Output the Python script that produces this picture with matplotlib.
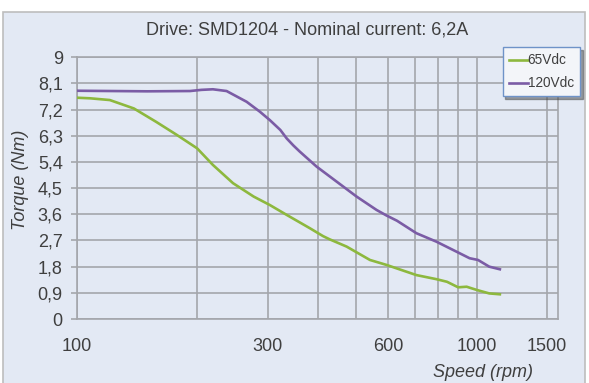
import numpy as np
import matplotlib
matplotlib.use('Agg')
import matplotlib.pyplot as plt
from matplotlib.patches import Rectangle

plt.rcParams['font.family'] = ['Liberation Sans', 'DejaVu Sans']

# torque curves
speed_65 = [100, 108, 121, 139, 158, 178, 200, 219, 246, 277, 304, 335, 383, 413, 429,
            473, 541, 595, 707, 793, 843, 899, 944, 1000, 1075, 1143]
torque_65 = [7.61, 7.59, 7.53, 7.24, 6.78, 6.33, 5.87, 5.30, 4.67, 4.21, 3.92, 3.58, 3.12,
             2.85, 2.74, 2.49, 2.03, 1.86, 1.51, 1.37, 1.28, 1.09, 1.11, 1.00, 0.88, 0.85]

speed_120 = [100, 150, 192, 205, 219, 237, 266, 287, 304, 323, 335, 348, 361, 398, 447,
             501, 562, 595, 632, 707, 793, 892, 960, 1008, 1075, 1143]
torque_120 = [7.85, 7.83, 7.84, 7.88, 7.90, 7.84, 7.47, 7.13, 6.84, 6.50, 6.21, 5.97, 5.76,
              5.24, 4.72, 4.21, 3.75, 3.56, 3.38, 2.95, 2.66, 2.31, 2.09, 2.03, 1.80, 1.71]

yticks = [0, 0.9, 1.8, 2.7, 3.6, 4.5, 5.4, 6.3, 7.2, 8.1, 9]
ytick_labels = ['0', '0,9', '1,8', '2,7', '3,6', '4,5', '5,4', '6,3', '7,2', '8,1', '9']
xgrid = [100, 200, 300, 400, 500, 600, 700, 800, 900, 1000, 1500]
xlabeled = [100, 300, 600, 1000, 1500]

bg = '#E3E9F4'
grid_c = '#A4A6AB'
txt_c = '#3F3F3F'
green = '#8DB83E'
purple = '#7B5CA5'

W, H = 589, 383
fig = plt.figure(figsize=(W / 100, H / 100), dpi=100)
fig.patch.set_facecolor('white')

# chart area panel
fig.patches.append(Rectangle((3.3 / W, -0.05), (585 - 3.3) / W, 1.05 - 11.7 / H,
                             transform=fig.transFigure, facecolor=bg,
                             edgecolor='#BDBDBD', linewidth=1.2, zorder=-5))

ax = fig.add_axes([76.7 / W, 1 - 319 / H, (558.3 - 76.7) / W, (319 - 57.3) / H])
ax.set_zorder(2)
ax.set_facecolor(bg)

ax.plot(speed_65, torque_65, color=green, lw=1.9, label='65Vdc', zorder=3,
        solid_joinstyle='round')
ax.plot(speed_120, torque_120, color=purple, lw=1.9, label='120Vdc', zorder=3,
        solid_joinstyle='round')

ax.set_xscale('log')
ax.set_xlim(100, 1600)
ax.set_ylim(0, 9)

ax.set_xticks(xgrid)
ax.set_xticklabels([str(v) if v in xlabeled else '' for v in xgrid])
ax.set_xticks([100, 1000], minor=True)
ax.xaxis.set_minor_formatter(matplotlib.ticker.NullFormatter())
ax.tick_params(axis='x', which='major', length=0, pad=14, labelsize=13, labelcolor=txt_c)
ax.tick_params(axis='x', which='minor', length=5, width=1.2, color=grid_c)

ax.set_yticks(yticks)
ax.set_yticklabels(ytick_labels)
ax.tick_params(axis='y', length=4, width=1.2, color=grid_c, pad=6, labelsize=13,
               labelcolor=txt_c)

ax.grid(True, which='major', color=grid_c, lw=1.2)
ax.set_axisbelow(True)
for s in ax.spines.values():
    s.set_color(grid_c)
    s.set_linewidth(1.2)

fig.text(307 / W, 1 - 30 / H, 'Drive: SMD1204 - Nominal current: 6,2A', ha='center',
         va='center', fontsize=13, color=txt_c)
fig.text(20.5 / W, 1 - 180 / H, 'Torque (Nm)', rotation=90, ha='center', va='center',
         fontsize=13, style='italic', color=txt_c)
fig.text(483 / W, 1 - 372.5 / H, 'Speed (rpm)', ha='center', va='center',
         fontsize=13, style='italic', color=txt_c)

leg = ax.legend(loc='upper right', bbox_to_anchor=(580 / W, 1 - 47.3 / H),
                bbox_transform=fig.transFigure, fontsize=9.8, handlelength=1.4,
                handletextpad=0.0, borderpad=0.45, labelspacing=0.65, fancybox=False,
                shadow=True, framealpha=1, borderaxespad=0)
leg.get_frame().set_facecolor('#F3F5F9')
leg.get_frame().set_edgecolor('#6F93C8')
leg.get_frame().set_linewidth(1.0)
for t in leg.get_texts():
    t.set_color(txt_c)

fig.savefig('out.png', dpi=100, facecolor=fig.get_facecolor())
